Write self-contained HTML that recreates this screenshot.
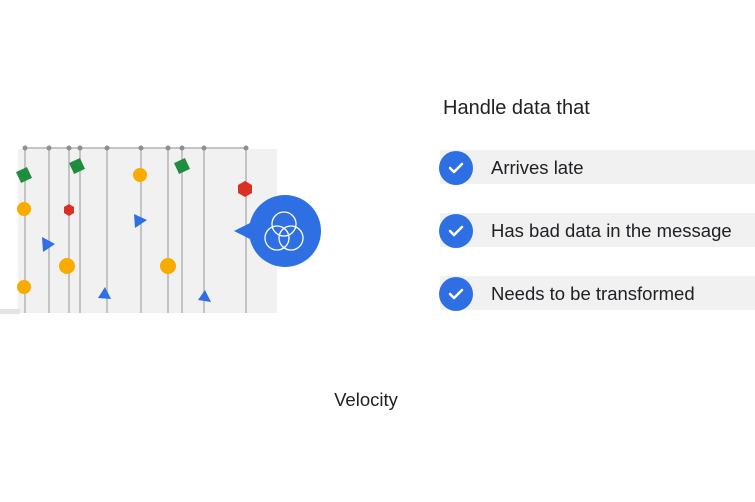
<!DOCTYPE html>
<html><head><style>body{margin:0;background:#fff}svg{display:block}text{font-family:"Liberation Sans",Arial,sans-serif;fill:#202124}</style></head><body>
<svg width="755" height="502" viewBox="0 0 755 502">
<rect x="18" y="149" width="259" height="164" fill="#f1f1f2"/>
<rect x="0" y="309" width="20" height="5" fill="#e4e4e4"/>
<g stroke="#c4c4c6" stroke-width="2">
<line x1="25" y1="148" x2="246" y2="148"/>
<line x1="25" y1="148" x2="25" y2="313"/><line x1="49" y1="148" x2="49" y2="313"/><line x1="69" y1="148" x2="69" y2="313"/><line x1="80" y1="148" x2="80" y2="313"/><line x1="107" y1="148" x2="107" y2="313"/><line x1="141" y1="148" x2="141" y2="313"/><line x1="168" y1="148" x2="168" y2="313"/><line x1="182" y1="148" x2="182" y2="313"/><line x1="204" y1="148" x2="204" y2="313"/><line x1="246" y1="148" x2="246" y2="313"/>
</g>
<g fill="#8f8f92"><circle cx="25" cy="148" r="2.5"/><circle cx="49" cy="148" r="2.5"/><circle cx="69" cy="148" r="2.5"/><circle cx="80" cy="148" r="2.5"/><circle cx="107" cy="148" r="2.5"/><circle cx="141" cy="148" r="2.5"/><circle cx="168" cy="148" r="2.5"/><circle cx="182" cy="148" r="2.5"/><circle cx="204" cy="148" r="2.5"/><circle cx="246" cy="148" r="2.5"/></g>
<g fill="#1e8e3e"><rect x="18" y="169" width="12" height="12" transform="rotate(-25 24 175)"/><rect x="71" y="160" width="12" height="12" transform="rotate(-25 77 166)"/><rect x="176" y="160" width="12" height="12" transform="rotate(-25 182 166)"/></g>
<g fill="#f9ab00"><circle cx="24" cy="209" r="7"/><circle cx="140" cy="175" r="7"/><circle cx="67" cy="266" r="8"/><circle cx="168" cy="266" r="8"/><circle cx="24" cy="287" r="7"/></g>
<g fill="#d93025"><polygon points="69,204 74,207 74,213 69,216 64,213 64,207"/><polygon points="245,181 252,185 252,193 245,197 238,193 238,185"/></g>
<g fill="#2f6fe4"><polygon points="42,237 55,244 43,252"/><polygon points="134,214 147,220 135,228"/><polygon points="105,287 111,299 98,298"/><polygon points="205,290 211,302 198,300"/></g>
<polygon points="234,231 252,222 252,240" fill="#2f6fe4"/>
<circle cx="285" cy="231" r="36" fill="#2f6fe4"/>
<g fill="none" stroke="#fff" stroke-width="1.3"><circle cx="284" cy="224" r="12"/><circle cx="277" cy="238" r="12"/><circle cx="291" cy="238" r="12"/></g>
<text x="443" y="114" font-size="20">Handle data that</text>
<g fill="#f1f1f2"><rect x="440" y="150" width="315" height="34"/><rect x="440" y="213" width="315" height="34"/><rect x="440" y="276" width="315" height="34"/></g>
<g fill="#2f6fe4"><circle cx="456" cy="168" r="17"/><circle cx="456" cy="231" r="17"/><circle cx="456" cy="294" r="17"/></g>
<g fill="none" stroke="#fff" stroke-width="2.5" stroke-linecap="round" stroke-linejoin="round"><polyline points="450,168 454,172 462,164"/><polyline points="450,231 454,235 462,227"/><polyline points="450,294 454,298 462,290"/></g>
<text x="491" y="174" font-size="18.5">Arrives late</text>
<text x="491" y="237" font-size="18.5">Has bad data in the message</text>
<text x="491" y="300" font-size="18.5">Needs to be transformed</text>
<text x="366" y="406" font-size="18.5" text-anchor="middle">Velocity</text>
</svg>
</body></html>
